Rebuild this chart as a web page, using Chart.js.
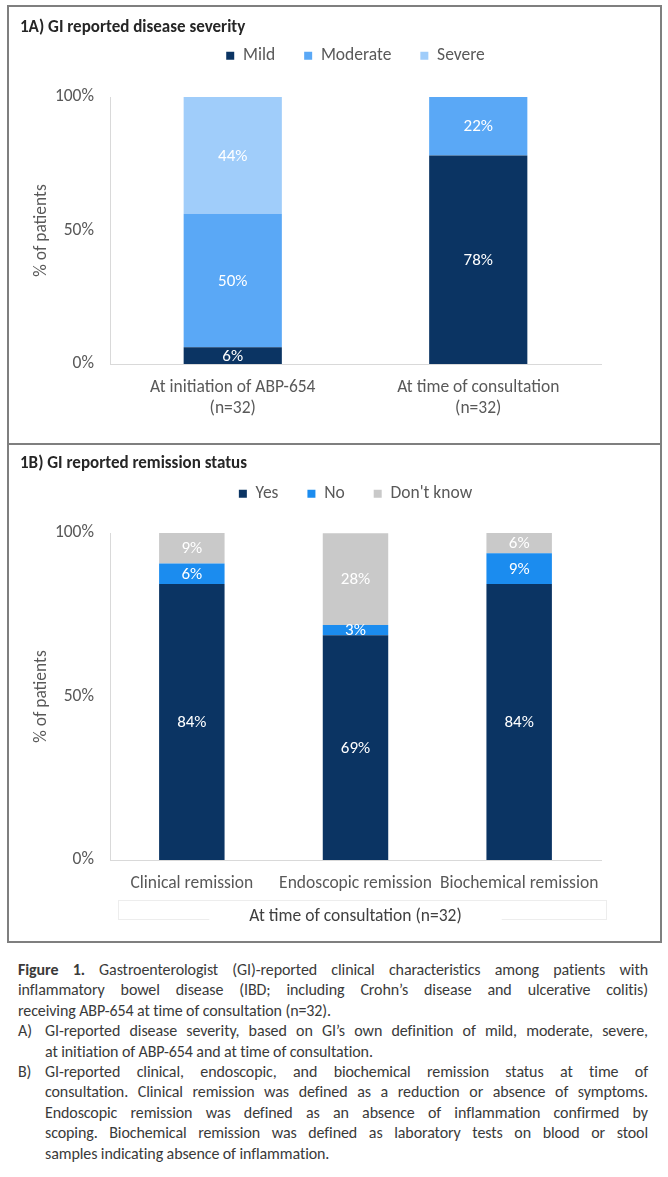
<!DOCTYPE html>
<html lang="en">
<head>
    <meta charset="UTF-8">
    <title>GI reported disease severity and remission status</title>
    <script src="https://cdn.jsdelivr.net/npm/chart.js"></script>
    <style>
        body {
            margin: 0;
            background: #ffffff;
            font-family: 'Carlito', 'Lato', sans-serif;
        }

        .frame {
            position: absolute;
            left: 7px;
            top: 5px;
            width: 651px;
            height: 934px;
            border: 2px solid #7f7f7f;
        }

        .divider {
            position: absolute;
            left: 0;
            top: 436px;
            width: 100%;
            border-top: 2px solid #7f7f7f;
        }

        .panel {
            position: absolute;
            left: 0;
            width: 651px;
        }

        #panelA { top: 0; height: 436px; }
        #panelB { top: 438px; height: 496px; }

        .panel-title {
            position: absolute;
            left: 11px;
            font-size: 17px;
            font-weight: bold;
            color: #262626;
            line-height: 20px;
            z-index: 2;
        }

        #titleA { top: 10px; }
        #titleB { top: 8px; }

        .caption {
            position: absolute;
            left: 18px;
            top: 960px;
            width: 630px;
            color: #3a3a3a;
            font-size: 16px;
            letter-spacing: -0.1px;
            line-height: 20.4px;
        }

        .ln {
            display: block;
            white-space: nowrap;
            text-align: justify;
            text-align-last: justify;
        }

        .ln.last { text-align-last: left; }

        .item { display: flex; }
        .item .tag { width: 27px; flex: none; }
        .item .body { flex: 1; }
    </style>
</head>
<body>

    <div class="frame">
        <div class="panel" id="panelA">
            <div class="panel-title" id="titleA">1A) GI reported disease severity</div>
            <canvas id="severityChart"></canvas>
        </div>
        <div class="divider"></div>
        <div class="panel" id="panelB">
            <div class="panel-title" id="titleB">1B) GI reported remission status</div>
            <canvas id="remissionChart"></canvas>
        </div>
    </div>

    <div class="caption">
        <span class="ln"><b>Figure 1.</b> Gastroenterologist (GI)-reported clinical characteristics among patients with</span>
        <span class="ln">inflammatory bowel disease (IBD; including Crohn’s disease and ulcerative colitis)</span>
        <span class="ln last">receiving ABP-654 at time of consultation (n=32).</span>
        <div class="item">
            <span class="tag">A)</span>
            <div class="body">
                <span class="ln">GI-reported disease severity, based on GI’s own definition of mild, moderate, severe,</span>
                <span class="ln last">at initiation of ABP-654 and at time of consultation.</span>
            </div>
        </div>
        <div class="item">
            <span class="tag">B)</span>
            <div class="body">
                <span class="ln">GI-reported clinical, endoscopic, and biochemical remission status at time of</span>
                <span class="ln">consultation. Clinical remission was defined as a reduction or absence of symptoms.</span>
                <span class="ln">Endoscopic remission was defined as an absence of inflammation confirmed by</span>
                <span class="ln">scoping. Biochemical remission was defined as laboratory tests on blood or stool</span>
                <span class="ln last">samples indicating absence of inflammation.</span>
            </div>
        </div>
    </div>

    <script>
        // Panel A data (% of patients)
        var severityLabels = [['At initiation of ABP-654', '(n=32)'], ['At time of consultation', '(n=32)']];
        var mild = [6.25, 78.1];
        var moderate = [50, 21.9];
        var severe = [43.75, 0];

        // Panel B data (% of patients)
        var remissionLabels = ['Clinical remission', 'Endoscopic remission', 'Biochemical remission'];
        var yes = [84.4, 68.75, 84.4];
        var no = [6.25, 3.1, 9.4];
        var dontKnow = [9.4, 28.1, 6.25];

        var yTicks = [0, 50, 100];

        var FONT = "'Carlito', 'Lato', sans-serif";
        var FS = 17.5;
        var GREY_TEXT = '#595959';
        var AXIS_LINE = '#d9d9d9';

        // white % labels in the middle of each segment
        var barLabels = {
            id: 'barLabels',
            afterDatasetsDraw: function(chart) {
                var ctx = chart.ctx;
                ctx.save();
                ctx.fillStyle = '#ffffff';
                ctx.font = '17px ' + FONT;
                ctx.textAlign = 'center';
                ctx.textBaseline = 'middle';
                chart.data.datasets.forEach(function(ds, i) {
                    var meta = chart.getDatasetMeta(i);
                    meta.data.forEach(function(bar, j) {
                        var v = ds.data[j];
                        if (!v) return;
                        var p = bar.getProps(['x', 'y', 'base'], true);
                        ctx.fillText(Math.round(v) + '%', p.x, (p.y + p.base) / 2 + 1);
                    });
                });
                ctx.restore();
            }
        };

        // extra room between legend and plot
        var legendGap = {
            id: 'legendGap',
            beforeInit: function(chart, args, opts) {
                var fit = chart.legend.fit;
                chart.legend.fit = function() {
                    fit.bind(chart.legend)();
                    this.height += opts.gap || 0;
                };
            }
        };

        // faint box behind the group label of panel B
        var groupBox = {
            id: 'groupBox',
            beforeDraw: function(chart, args, opts) {
                if (!opts.show) return;
                var ctx = chart.ctx;
                var a = chart.chartArea;
                ctx.save();
                ctx.strokeStyle = '#ededed';
                ctx.lineWidth = 1;
                ctx.strokeRect(Math.round(a.left + 8) + 0.5, Math.round(a.bottom + 40) + 0.5, Math.round(a.right - a.left - 3), 19);
                ctx.restore();
            },
            afterDraw: function(chart, args, opts) {
                if (!opts.show) return;
                var ctx = chart.ctx;
                var a = chart.chartArea;
                ctx.save();
                ctx.font = FS + 'px ' + FONT;
                var w = ctx.measureText(opts.text).width;
                var cx = (a.left + a.right) / 2;
                var cy = a.bottom + 57;
                ctx.fillStyle = '#ffffff';
                ctx.fillRect(cx - w / 2 - 40, cy - 6, w + 80, 20);
                ctx.fillStyle = '#404040';
                ctx.textAlign = 'center';
                ctx.textBaseline = 'middle';
                ctx.fillText(opts.text, cx, cy);
                ctx.restore();
            }
        };

        function makeOptions(xHeight, padBottom, gap, groupText) {
            return {
                responsive: true,
                maintainAspectRatio: false,
                animation: false,
                layout: { padding: { left: 12, right: 59, top: 11, bottom: padBottom } },
                scales: {
                    x: {
                        stacked: true,
                        grid: { display: false, drawTicks: false },
                        border: { display: true, color: AXIS_LINE },
                        ticks: {
                            color: GREY_TEXT,
                            font: { family: FONT, size: FS, lineHeight: 1.15 },
                            padding: 14,
                            maxRotation: 0,
                            autoSkip: false
                        },
                        afterFit: function(scale) { scale.height = xHeight; }
                    },
                    y: {
                        stacked: true,
                        min: 0,
                        max: 100,
                        afterBuildTicks: function(scale) {
                            scale.ticks = yTicks.map(function(v) { return { value: v }; });
                        },
                        afterFit: function(scale) { scale.width = 89; },
                        grid: { display: false, drawTicks: false },
                        border: { display: true, color: AXIS_LINE },
                        ticks: {
                            color: GREY_TEXT,
                            font: { family: FONT, size: FS },
                            padding: 16,
                            callback: function(v) { return v + '%'; }
                        },
                        title: {
                            display: true,
                            text: '% of patients',
                            color: GREY_TEXT,
                            font: { family: FONT, size: FS },
                            padding: { top: 10, bottom: 0 }
                        }
                    }
                },
                plugins: {
                    title: { display: false },
                    legend: {
                        position: 'top',
                        fullSize: false,
                        labels: {
                            color: GREY_TEXT,
                            font: { family: FONT, size: FS },
                            boxWidth: 8,
                            boxHeight: 8,
                            padding: 29
                        }
                    },
                    tooltip: { enabled: false },
                    legendGap: { gap: gap },
                    groupBox: { show: !!groupText, text: groupText }
                }
            };
        }

        function dataset(label, values, color) {
            return {
                label: label,
                data: values,
                backgroundColor: color,
                borderWidth: 0,
                categoryPercentage: 0.8,
                barPercentage: 0.5
            };
        }

        new Chart(document.getElementById('severityChart').getContext('2d'), {
            type: 'bar',
            data: {
                labels: severityLabels,
                datasets: [
                    dataset('Mild', mild, '#0b3463'),
                    dataset('Moderate', moderate, '#5aa8f6'),
                    dataset('Severe', severe, '#a0cdfa')
                ]
            },
            options: makeOptions(79, 0, 22.5, null),
            plugins: [legendGap, barLabels]
        });

        new Chart(document.getElementById('remissionChart').getContext('2d'), {
            type: 'bar',
            data: {
                labels: remissionLabels,
                datasets: [
                    dataset('Yes', yes, '#0b3463'),
                    dataset('No', no, '#1b8cef'),
                    dataset("Don't know", dontKnow, '#c9c9c9')
                ]
            },
            options: makeOptions(67, 14, 20.5, 'At time of consultation (n=32)'),
            plugins: [legendGap, groupBox, barLabels]
        });
    </script>
</body>
</html>
